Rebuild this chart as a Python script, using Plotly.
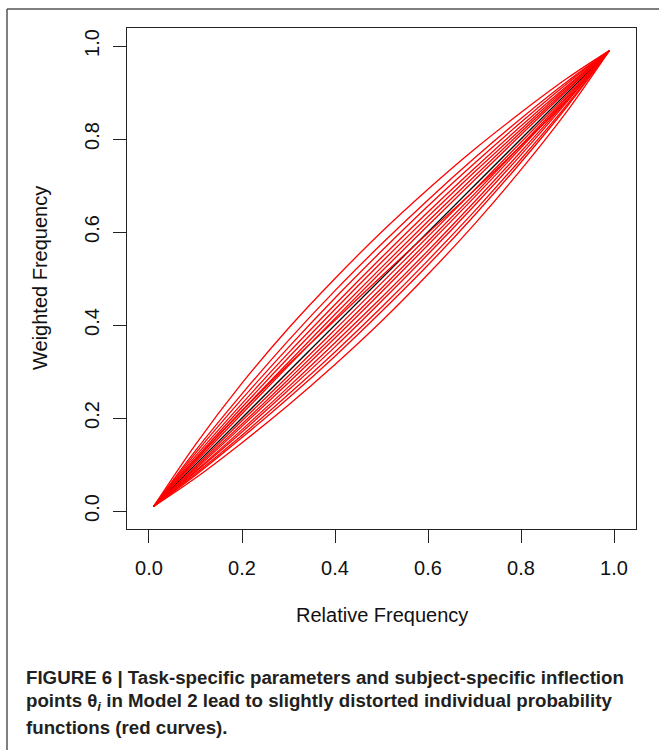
import plotly.graph_objects as go

# x grid at which curve values were read
x_grid = [0.01, 0.1, 0.2, 0.3, 0.4, 0.5, 0.6, 0.7, 0.8, 0.9, 0.99]

# individual probability functions (red curves)
curve_01 = [0.01, 0.143, 0.275, 0.393, 0.500, 0.600, 0.692, 0.778, 0.857, 0.931, 0.99]
curve_02 = [0.01, 0.130, 0.252, 0.367, 0.474, 0.574, 0.669, 0.759, 0.844, 0.924, 0.99]
curve_03 = [0.01, 0.124, 0.241, 0.352, 0.458, 0.559, 0.656, 0.748, 0.836, 0.920, 0.99]
curve_04 = [0.01, 0.118, 0.231, 0.340, 0.444, 0.545, 0.643, 0.737, 0.828, 0.915, 0.99]
curve_05 = [0.01, 0.113, 0.223, 0.330, 0.434, 0.535, 0.633, 0.729, 0.821, 0.912, 0.99]
curve_06 = [0.01, 0.109, 0.216, 0.320, 0.423, 0.524, 0.623, 0.720, 0.815, 0.908, 0.99]
curve_07 = [0.01, 0.105, 0.209, 0.312, 0.414, 0.515, 0.614, 0.712, 0.809, 0.905, 0.99]
curve_08 = [0.01, 0.110, 0.215, 0.315, 0.410, 0.505, 0.598, 0.690, 0.785, 0.885, 0.99]
curve_09 = [0.01, 0.096, 0.194, 0.291, 0.390, 0.490, 0.590, 0.691, 0.793, 0.896, 0.99]
curve_10 = [0.01, 0.093, 0.187, 0.283, 0.380, 0.479, 0.580, 0.682, 0.786, 0.892, 0.99]
curve_11 = [0.01, 0.090, 0.182, 0.276, 0.372, 0.471, 0.572, 0.675, 0.781, 0.889, 0.99]
curve_12 = [0.01, 0.086, 0.175, 0.267, 0.362, 0.459, 0.560, 0.665, 0.773, 0.884, 0.99]
curve_13 = [0.01, 0.084, 0.170, 0.260, 0.353, 0.451, 0.552, 0.657, 0.766, 0.881, 0.99]
curve_14 = [0.01, 0.080, 0.163, 0.251, 0.342, 0.438, 0.539, 0.645, 0.757, 0.875, 0.99]
curve_15 = [0.01, 0.077, 0.158, 0.243, 0.333, 0.429, 0.529, 0.636, 0.750, 0.871, 0.99]
curve_16 = [0.01, 0.071, 0.147, 0.228, 0.315, 0.408, 0.509, 0.617, 0.734, 0.861, 0.99]

red_curves = [curve_01, curve_02, curve_03, curve_04, curve_05, curve_06, curve_07, curve_08,
              curve_09, curve_10, curve_11, curve_12, curve_13, curve_14, curve_15, curve_16]

# identity line (black)
diag_x = [0.01, 0.99]
diag_y = [0.01, 0.99]

tick_vals = [0.0, 0.2, 0.4, 0.6, 0.8, 1.0]
tick_text = ["0.0", "0.2", "0.4", "0.6", "0.8", "1.0"]

x_title = "Relative Frequency"
y_title = "Weighted Frequency"
caption_lines = [
    "FIGURE 6 | Task-specific parameters and subject-specific inflection",
    "points θ<sub><i>i</i></sub> in Model 2 lead to slightly distorted individual probability",
    "functions (red curves).",
]

W, H = 659, 750
L, R, T, B = 127, 23, 28, 221
pw, ph = W - L - R, H - T - B


def px_x(px):
    return (px - L) / pw


def px_y(py):
    return (H - B - py) / ph


fig = go.Figure()
fig.add_trace(go.Scatter(x=diag_x, y=diag_y, mode="lines",
                         line=dict(color="black", width=1.3), showlegend=False, hoverinfo="skip"))
for c in red_curves:
    fig.add_trace(go.Scatter(x=x_grid, y=c, mode="lines", line_shape="spline",
                             line=dict(color="#ff0000", width=1.3), showlegend=False,
                             hoverinfo="skip"))

axis_common = dict(
    tickvals=tick_vals, ticktext=tick_text, ticks="outside", ticklen=13, tickwidth=1.2,
    tickcolor="#222", showline=True, linecolor="#222", linewidth=1.3, mirror=True,
    showgrid=False, zeroline=False, tickfont=dict(family="Liberation Sans, Arial", size=20, color="#111"),
)

fig.update_xaxes(range=[-0.0473, 1.0473], ticklabelstandoff=8, **axis_common)
fig.update_yaxes(range=[-0.0387, 1.0387], tickangle=-90, ticklabelstandoff=6, **axis_common)

annotations = [
    dict(text=x_title, x=0.5, y=px_y(615), xref="paper", yref="paper", showarrow=False,
         font=dict(family="Liberation Sans, Arial", size=20, color="#111"), xanchor="center", yanchor="middle"),
    dict(text=y_title, x=px_x(40), y=px_y(278), xref="paper", yref="paper", showarrow=False,
         textangle=-90, font=dict(family="Liberation Sans, Arial", size=20, color="#111"),
         xanchor="center", yanchor="middle"),
]
for i, line in enumerate(caption_lines):
    annotations.append(dict(text="<b>" + line + "</b>", x=px_x(24), y=px_y(677 + 25 * i),
                            xref="paper", yref="paper", showarrow=False, xanchor="left",
                            yanchor="middle",
                            font=dict(family="Liberation Sans Narrow, Liberation Sans", size=18.7, color="#231f20")))

shapes = [
    dict(type="line", xref="paper", yref="paper", x0=px_x(7), y0=px_y(9), x1=px_x(W + 5), y1=px_y(9),
         line=dict(color="#555", width=1.5)),
    dict(type="line", xref="paper", yref="paper", x0=px_x(7), y0=px_y(9), x1=px_x(7), y1=px_y(H + 5),
         line=dict(color="#555", width=1.5)),
]

fig.update_layout(
    width=W, height=H, margin=dict(l=L, r=R, t=T, b=B),
    paper_bgcolor="white", plot_bgcolor="white",
    annotations=annotations, shapes=shapes, showlegend=False,
)

fig.write_html("out.html", config={"displayModeBar": False},
               post_script="document.body.style.margin='0';")
